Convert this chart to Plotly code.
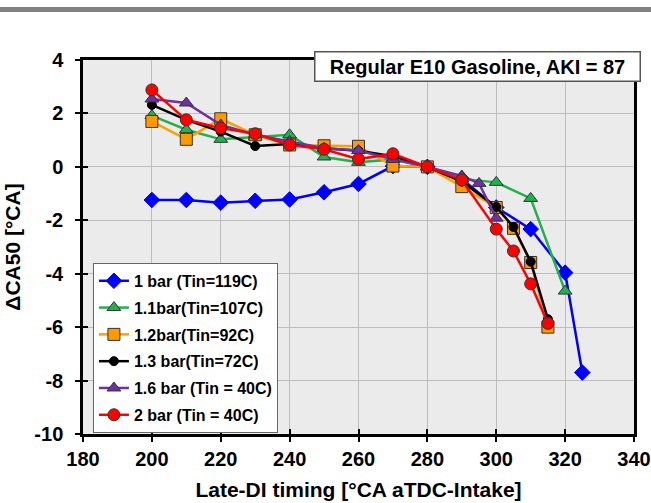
import plotly.graph_objects as go

# Data
x_1bar = [200, 210, 220, 230, 240, 250, 260, 270, 280, 290, 300, 310, 320, 325]
y_1bar = [-1.24, -1.24, -1.34, -1.27, -1.22, -0.95, -0.64, 0.03, 0.0, -0.45, -1.52, -2.33, -3.96, -7.7]

x_11bar = [200, 210, 220, 230, 240, 250, 260, 270, 280, 290, 300, 310, 320]
y_11bar = [1.92, 1.39, 1.03, 1.12, 1.2, 0.37, 0.17, 0.28, 0.0, -0.45, -0.58, -1.18, -4.65]

x_12bar = [200, 210, 220, 230, 240, 250, 260, 270, 280, 290, 300, 305, 310, 315]
y_12bar = [1.7, 1.03, 1.8, 1.2, 0.82, 0.79, 0.77, 0.03, 0.0, -0.74, -1.52, -2.3, -3.58, -6.0]

x_13bar = [200, 210, 220, 230, 240, 250, 260, 270, 280, 290, 300, 305, 310, 315]
y_13bar = [2.32, 1.76, 1.32, 0.78, 0.86, 0.7, 0.6, 0.4, 0.0, -0.55, -1.5, -2.25, -3.55, -5.7]

x_16bar = [200, 210, 220, 230, 240, 250, 260, 270, 280, 290, 295, 300]
y_16bar = [2.54, 2.39, 1.57, 1.2, 0.95, 0.7, 0.61, 0.28, 0.0, -0.34, -0.62, -1.92]

x_2bar = [200, 210, 220, 230, 240, 250, 260, 270, 280, 290, 300, 305, 310, 315]
y_2bar = [2.88, 1.76, 1.45, 1.24, 0.82, 0.66, 0.29, 0.49, 0.0, -0.49, -2.33, -3.15, -4.38, -5.86]

names = ["1 bar (Tin=119C)", "1.1bar(Tin=107C)", "1.2bar(Tin=92C)",
         "1.3 bar(Tin=72C)", "1.6 bar (Tin = 40C)", "2 bar (Tin = 40C)"]

x_ticks = [180, 200, 220, 240, 260, 280, 300, 320, 340]
y_ticks = [-10, -8, -6, -4, -2, 0, 2, 4]
y_ticktext = [str(v) for v in y_ticks]
x_range = [180, 340]
y_range = [-10, 4]

FONT = "Liberation Sans, Arial, sans-serif"
OUT = "#333333"

series = [
    (x_1bar, y_1bar, "#0000FF", "#0000FF", "diamond", 12, "#0000FF"),
    (x_11bar, y_11bar, "#22B14C", "#22B14C", "triangle-up", 12, OUT),
    (x_12bar, y_12bar, "#FFA000", "#FF9900", "square", 12, OUT),
    (x_13bar, y_13bar, "#000000", "#000000", "circle", 9, "#000000"),
    (x_16bar, y_16bar, "#7030A0", "#7030A0", "triangle-up", 12, OUT),
    (x_2bar, y_2bar, "#FF0000", "#FF0000", "circle", 12, OUT),
]

fig = go.Figure()
for i, ((xs, ys, lc, mc, sym, sz, oc), nm) in enumerate(zip(series, names)):
    fig.add_trace(go.Scatter(
        x=xs, y=ys, name=nm, mode="lines+markers", legendgroup=f"g{i}",
        line=dict(color=lc, width=2.5),
        marker=dict(symbol=sym, size=sz, color=mc, line=dict(color=oc, width=1)),
    ))

tickfont = dict(family=FONT, size=20, color="black", weight="bold")
titlefont = dict(family=FONT, size=21, color="black", weight="bold")

axis_common = dict(
    showline=True, linecolor="black", linewidth=2.5, mirror=True,
    showgrid=True, gridcolor="#BEBEBE", gridwidth=1.2,
    ticks="outside", ticklen=5, tickwidth=2, tickcolor="black",
    tickfont=tickfont, zeroline=False, automargin=False,
)

fig.update_layout(
    width=651, height=503,
    margin=dict(l=83, r=17, t=60, b=69),
    paper_bgcolor="white", plot_bgcolor="#EBEBEB",
    showlegend=True,
    legend=dict(
        x=0.018, y=0.003, xanchor="left", yanchor="bottom",
        bgcolor="white", bordercolor="#666666", borderwidth=1,
        font=dict(family=FONT, size=16, color="black", weight="bold"),
        traceorder="grouped", tracegroupgap=3, itemwidth=30,
    ),
    xaxis=dict(
        range=x_range, tickvals=x_ticks,
        title=dict(text="Late-DI timing [°CA aTDC-Intake]", font=titlefont, standoff=14),
        **axis_common,
    ),
    yaxis=dict(
        range=y_range, tickvals=y_ticks, ticktext=y_ticktext, ticklabelstandoff=8,
        title=dict(text="ΔCA50 [°CA]", font=titlefont, standoff=8),
        **axis_common,
    ),
    xaxis2=dict(range=x_range, tickvals=x_ticks, overlaying="x", side="bottom",
                anchor="y2", showticklabels=False, showgrid=False, zeroline=False,
                ticks="inside", ticklen=5, tickwidth=2, tickcolor="black", showline=False,
                automargin=False),
    yaxis2=dict(range=y_range, tickvals=y_ticks, overlaying="y", side="left",
                anchor="x2", showticklabels=False, showgrid=False, zeroline=False,
                ticks="inside", ticklen=5, tickwidth=2, tickcolor="black", showline=False,
                automargin=False),
    shapes=[dict(type="rect", xref="paper", yref="paper",
                 x0=-0.2, x1=1.1, y0=(503 - 69 - 12) / 374, y1=(503 - 69 - 7) / 374,
                 fillcolor="#808080", line=dict(width=0), layer="above")],
    annotations=[dict(
        text="Regular E10 Gasoline, AKI = 87",
        xref="paper", yref="paper", x=(641 - 83) / 551, y=(434 - 67) / 374,
        xanchor="right", yanchor="middle", showarrow=False,
        width=318, align="center",
        font=dict(family=FONT, size=20, color="black", weight="bold"),
        bgcolor="white", bordercolor="#555555", borderwidth=1.5, borderpad=3,
    )],
)

# invisible trace to activate the overlay axes (cross ticks)
fig.add_trace(go.Scatter(x=[None], y=[None], xaxis="x2", yaxis="y2",
                         showlegend=False, hoverinfo="skip"))

fig.write_html("out.html")
